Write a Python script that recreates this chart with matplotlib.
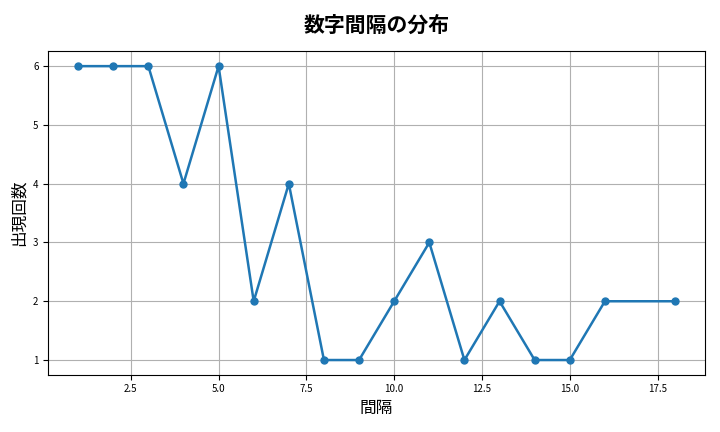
import matplotlib
matplotlib.use('Agg')
import matplotlib.pyplot as plt

plt.rcParams['font.family'] = ['Noto Sans CJK JP', 'DejaVu Sans']

gaps = [1, 2, 3, 4, 5, 6, 7, 8, 9, 10, 11, 12, 13, 14, 15, 16, 18]
counts = [6, 6, 6, 4, 6, 2, 4, 1, 1, 2, 3, 1, 2, 1, 1, 2, 2]

fig, ax = plt.subplots(figsize=(7.2, 4.32), dpi=100)
ax.plot(gaps, counts, marker='o', markersize=5, linewidth=1.8, color='#1f77b4')
ax.set_title('数字間隔の分布', fontsize=15, fontweight='bold', pad=14)
ax.set_xlabel('間隔', fontsize=12)
ax.set_ylabel('出現回数', fontsize=12)
ax.tick_params(labelsize=7)
ax.grid(True, color='#b0b0b0', linewidth=0.8)
fig.tight_layout()
fig.subplots_adjust(left=0.067)
fig.savefig('out.png')
